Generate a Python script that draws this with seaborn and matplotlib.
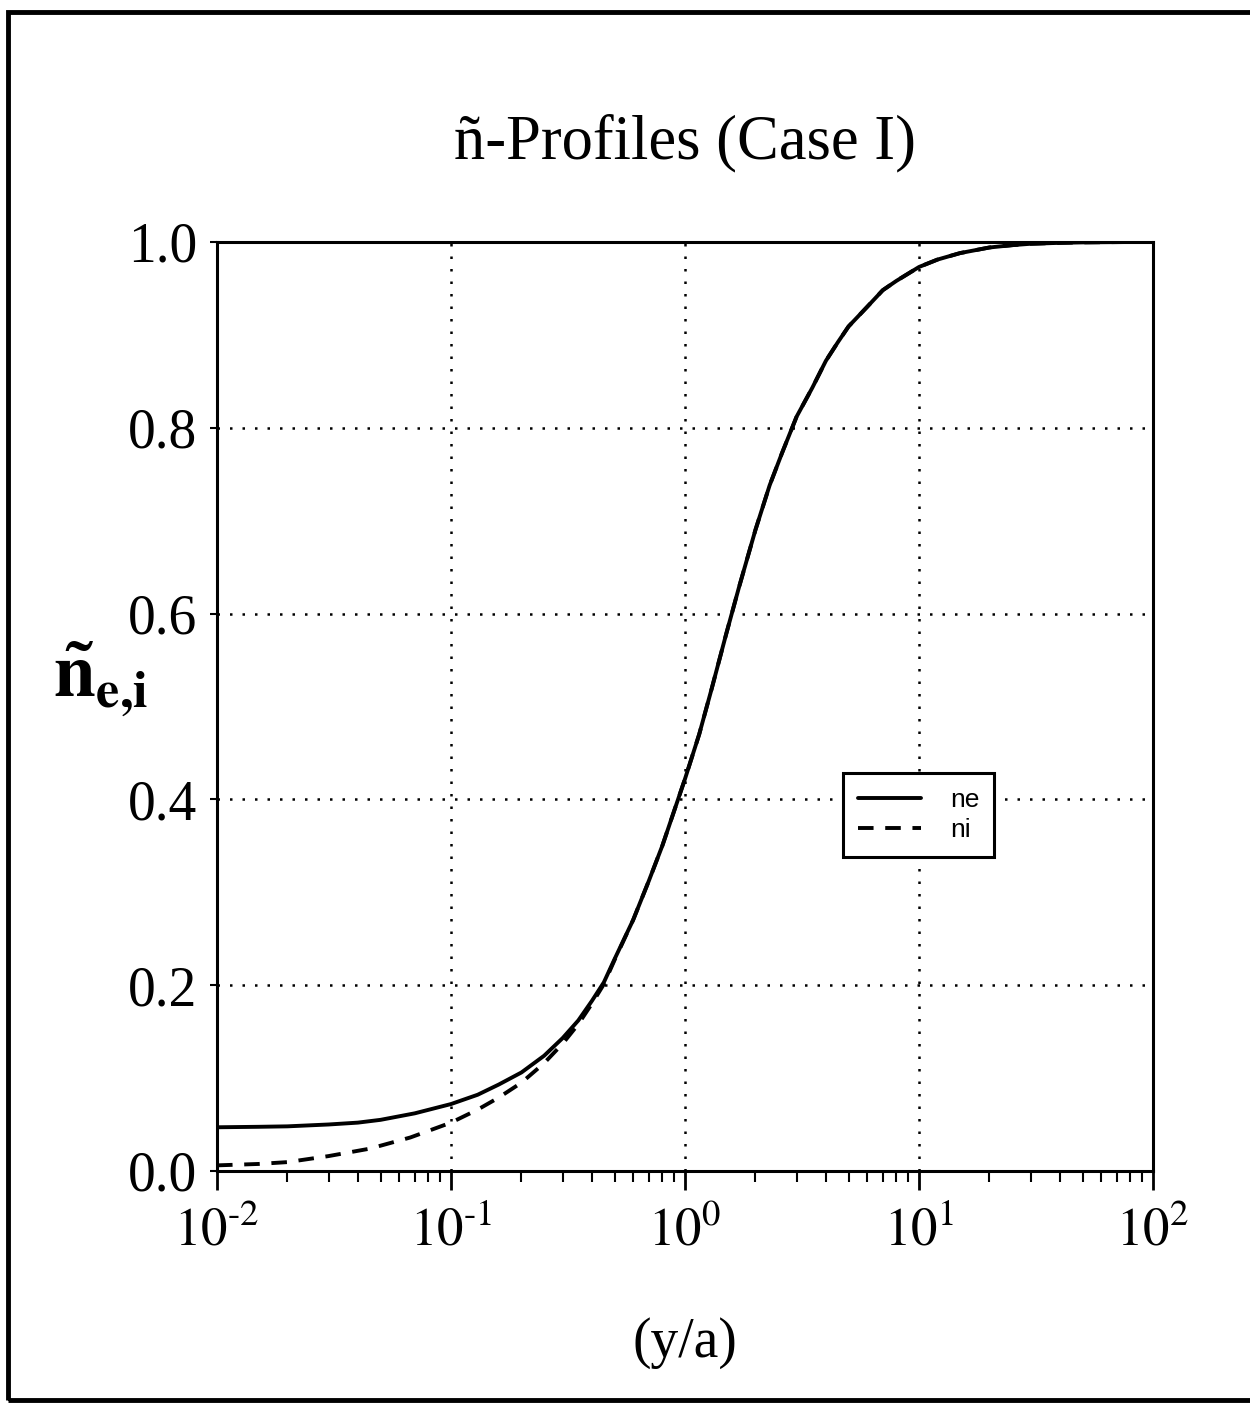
import numpy as np
import pandas as pd
import matplotlib
matplotlib.use("Agg")
import matplotlib.pyplot as plt
import seaborn as sns
from matplotlib.patches import Rectangle
from matplotlib.ticker import LogLocator, NullFormatter, FixedLocator

# ---- data ----
x_ne = [0.01, 0.015, 0.02, 0.03, 0.04, 0.05, 0.07, 0.1, 0.13, 0.16, 0.2, 0.25, 0.3, 0.35, 0.4, 0.45,
        0.5, 0.6, 0.7, 0.8, 0.9, 1.0, 1.15, 1.3, 1.5, 1.7, 2.0, 2.3, 2.6, 3.0, 3.5, 4.0, 4.5, 5.0,
        6.0, 7.0, 8.0, 10, 12, 15, 20, 25, 30, 40, 50, 70, 100]
ne = [0.047, 0.0475, 0.048, 0.050, 0.052, 0.055, 0.062, 0.072, 0.082, 0.093, 0.106, 0.124, 0.143, 0.162, 0.183, 0.203,
      0.228, 0.270, 0.312, 0.350, 0.388, 0.422, 0.470, 0.519, 0.578, 0.628, 0.690, 0.738, 0.773, 0.812, 0.843, 0.872, 0.892, 0.909,
      0.930, 0.948, 0.958, 0.973, 0.981, 0.988, 0.994, 0.9965, 0.998, 0.999, 0.9995, 0.9998, 1.0]

x_ni = [0.01, 0.015, 0.02, 0.03, 0.045, 0.067, 0.1, 0.13, 0.16, 0.2, 0.25, 0.3, 0.35, 0.4, 0.45,
        0.5, 0.6, 0.7, 0.8, 0.9, 1.0, 1.15, 1.3, 1.5, 1.7, 2.0, 2.3, 2.6, 3.0, 3.5, 4.0, 4.5, 5.0,
        6.0, 7.0, 8.0, 10, 12, 15, 20, 25, 30, 40, 50, 70, 100]
ni = [0.006, 0.0075, 0.0095, 0.016, 0.024, 0.036, 0.052, 0.066, 0.079, 0.095, 0.116, 0.137, 0.158, 0.180, 0.201,
      0.227, 0.270, 0.312, 0.350, 0.388, 0.422, 0.470, 0.519, 0.578, 0.628, 0.690, 0.738, 0.773, 0.812, 0.843, 0.872, 0.892, 0.909,
      0.930, 0.948, 0.958, 0.973, 0.981, 0.988, 0.994, 0.9965, 0.998, 0.999, 0.9995, 0.9998, 1.0]

series_names = ["ne", "ni"]
title_text = "ñ-Profiles (Case I)"
xlabel_text = "(y/a)"
ylabel_text = r"$\mathbf{\tilde{n}_{e{,}i}}$"
yticks = [0.0, 0.2, 0.4, 0.6, 0.8, 1.0]
xticks = [1e-2, 1e-1, 1e0, 1e1, 1e2]
xtick_labels = [r"$10^{\text{-}2}$", r"$10^{\text{-}1}$", r"$10^{0}$", r"$10^{1}$", r"$10^{2}$"]

df = pd.concat([
    pd.DataFrame({"x": x_ne, "y": ne, "s": series_names[0]}),
    pd.DataFrame({"x": x_ni, "y": ni, "s": series_names[1]}),
])

sns.set_style("white")
plt.rcParams["font.family"] = ["Liberation Serif", "DejaVu Serif"]
plt.rcParams["mathtext.fontset"] = "stix"
for k in ["text.color", "axes.labelcolor", "xtick.color", "ytick.color", "axes.edgecolor"]:
    plt.rcParams[k] = "black"

fig = plt.figure(figsize=(12.5, 14.04), dpi=100)
ax = fig.add_axes([0.1736, 0.166, 0.7488, 0.6617])

sns.lineplot(data=df, x="x", y="y", hue="s", style="s",
             palette={"ne": "black", "ni": "black"},
             dashes={"ne": "", "ni": (4, 3)},
             linewidth=2.8, ax=ax, sort=False, estimator=None)

ax.set_xscale("log")
ax.set_xlim(1e-2, 1e2)
ax.set_ylim(0, 1.0)

ax.xaxis.set_major_locator(FixedLocator(xticks))
ax.set_xticks(xticks)
ax.set_xticklabels(xtick_labels)
ax.xaxis.set_minor_locator(LogLocator(base=10, subs=np.arange(2, 10)))
ax.xaxis.set_minor_formatter(NullFormatter())
ax.set_yticks(yticks)
ax.set_yticklabels([f"{v:.1f}" for v in yticks])

ax.tick_params(axis="x", which="major", direction="out", length=14, width=2,
               labelsize=38, pad=12, bottom=True, color="black", labelcolor="black")
ax.tick_params(axis="x", which="minor", direction="out", length=8, width=1.5,
               bottom=True, color="black")
ax.tick_params(axis="y", which="major", direction="out", length=5, width=1.5,
               labelsize=40, pad=9, left=True, color="black", labelcolor="black")

for sp in ax.spines.values():
    sp.set_visible(True)
    sp.set_color("black")
    sp.set_linewidth(2.2)

ax.grid(True, which="major", linestyle=(0, (1, 4)), color="black", linewidth=1.8)

ax.set_xlabel(xlabel_text, fontsize=40, labelpad=44, color="black")
ax.set_ylabel(ylabel_text, fontsize=54, rotation=0, va="center", color="black")
ax.yaxis.set_label_coords(-0.125, 0.53)

ax.set_title(title_text, fontsize=45, pad=60, color="black")

leg = ax.legend(loc="upper left", bbox_to_anchor=(0.669, 0.428), frameon=True,
                fancybox=False, edgecolor="black",
                handlelength=2.4, handletextpad=1.1, borderpad=0.55, labelspacing=0.25,
                borderaxespad=0,
                prop={"family": ["Liberation Sans", "DejaVu Sans"], "size": 19})
frame = leg.get_frame()
frame.set_linewidth(2.2)
frame.set_edgecolor("black")
frame.set_alpha(1.0)
for t in leg.get_texts():
    t.set_color("black")

fig.patches.append(Rectangle((0.0064, 0.003), 1.1, 0.9885, transform=fig.transFigure,
                             fill=False, edgecolor="black", linewidth=3.5))

fig.savefig("out.png", dpi=100, facecolor="white")
